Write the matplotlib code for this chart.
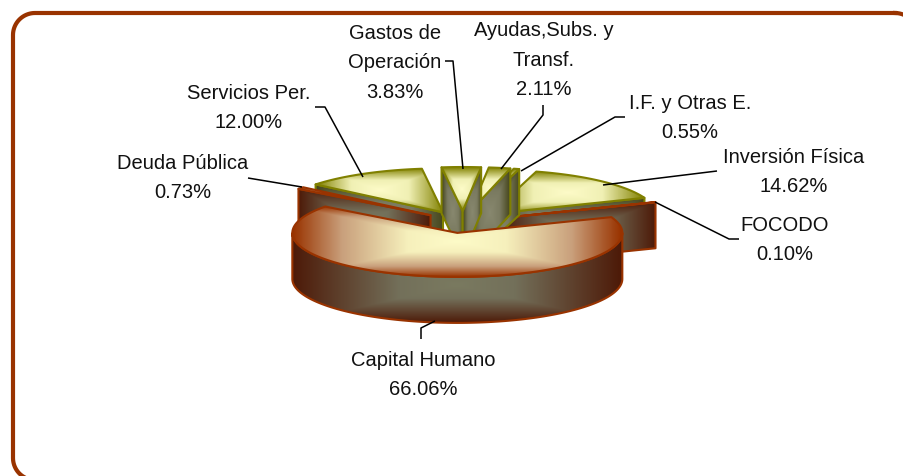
import numpy as np
import matplotlib
matplotlib.use("Agg")
import matplotlib.pyplot as plt
from matplotlib.colors import LinearSegmentedColormap
from matplotlib.patches import Polygon

# clockwise from the left edge of Capital Humano
names = ["Deuda Pública", "Servicios Per.", "Gastos de\nOperación", "Ayudas,Subs. y\nTransf.",
         "I.F. y Otras E.", "Inversión Física", "FOCODO", "Capital Humano"]
values = [0.73, 12.00, 3.83, 2.11, 0.55, 14.62, 0.10, 66.06]

plt.rcParams["font.family"] = ["Liberation Sans", "DejaVu Sans"]

label_xy = [(183, 178), (249, 108), (395, 63), (544, 60), (690, 118), (794, 172), (785, 240), (423, 375)]
leaders = [
    [(248, 178), (302, 187)],
    [(315, 107), (325, 107), (363, 177)],
    [(445, 61), (453, 61), (463, 169)],
    [(543, 105), (543, 115), (501, 169)],
    [(625, 117), (615, 117), (521, 171)],
    [(717, 171), (603, 185)],
    [(739, 239), (729, 239), (655, 202)],
    [(421, 339), (421, 328), (435, 321)],
]
draw_order = [1, 0, 5, 6, 4, 3, 2, 7]
brown_slices = [0, 6, 7]

CX, CY = 463, 222
RX, RY = 165, 44
DEPTH = 46
EXPLODE = 0.25
START = 21 - 360 * values[-1] / 100 + 360  # left edge of the big slice, going clockwise

BROWN = "#993300"
OLIVE = "#808000"
top_brown = LinearSegmentedColormap.from_list(
    "tb", [(0, "#fdfbc8"), (0.3, "#f6f0bc"), (0.7, "#c9a07c"), (1, BROWN)])
top_olive = LinearSegmentedColormap.from_list(
    "to", [(0, "#fdfbc8"), (0.45, "#f0f0b4"), (1, OLIVE)])
wall_brown = LinearSegmentedColormap.from_list(
    "wb", [(0, "#7a7a60"), (0.35, "#73705a"), (1, "#4d1a08")])
wall_olive = LinearSegmentedColormap.from_list(
    "wo", [(0, "#88886f"), (0.5, "#7a7a60"), (1, "#46461c")])

fig = plt.figure(figsize=(9.04, 4.76), dpi=100)
ax = fig.add_axes([0, 0, 1, 1])
z = [2]


def grad_fill(pts, cmap, edge, cyf=0.5):
    """polygon filled with a rectangular gradient, light in the middle"""
    pts = np.array(pts)
    x0, y0 = pts.min(axis=0)
    x1, y1 = pts.max(axis=0)
    cy = y0 + cyf * (y1 - y0)
    xx, yy = np.meshgrid(np.linspace(x0, x1, 160), np.linspace(y0, y1, 160))
    u = np.abs(xx - (x0 + x1) / 2) / max((x1 - x0) / 2, 1)
    v = np.where(yy > cy, (yy - cy) / max(y1 - cy, 1), (cy - yy) / max(cy - y0, 1))
    im = ax.imshow(np.maximum(u, v), cmap=cmap, vmin=0, vmax=1, extent=(x0, x1, y1, y0),
                   aspect="auto", zorder=z[0], interpolation="bilinear")
    clip = Polygon(pts, closed=True, transform=ax.transData)
    im.set_clip_path(clip)
    ax.add_patch(Polygon(pts, closed=True, fill=False, edgecolor=edge, lw=1.5,
                         joinstyle="round", zorder=z[0] + 1))
    z[0] += 2


def draw_slice(a0, a1, top_cmap, wall_cmap, edge):
    mid = np.radians((a0 + a1) / 2)
    ox = CX + EXPLODE * RX * np.cos(mid)
    oy = CY - EXPLODE * RY * np.sin(mid)
    n = max(int(abs(a0 - a1)), 2) + 1
    ang = np.radians(np.linspace(a0, a1, n))
    arc = np.column_stack([ox + RX * np.cos(ang), oy - RY * np.sin(ang)])
    apex = (ox, oy)

    # radial walls that face the viewer
    for a, visible in ((a0, np.cos(np.radians(a0)) < 0), (a1, np.cos(np.radians(a1)) > 0)):
        if visible:
            p = (ox + RX * np.cos(np.radians(a)), oy - RY * np.sin(np.radians(a)))
            grad_fill([apex, p, (p[0], p[1] + DEPTH), (ox, oy + DEPTH)], wall_cmap, edge)

    # outer wall, front half only
    front = ang[np.sin(ang) <= 0]
    if len(front) > 1:
        up = np.column_stack([ox + RX * np.cos(front), oy - RY * np.sin(front)])
        grad_fill(np.vstack([up, (up + [0, DEPTH])[::-1]]), wall_cmap, edge, cyf=0.58)

    grad_fill(np.vstack([apex, arc]), top_cmap, edge)


bounds = START - np.cumsum([0] + [360 * v / 100 for v in values])
for i in draw_order:
    if i in brown_slices:
        draw_slice(bounds[i], bounds[i + 1], top_brown, wall_brown, BROWN)
    else:
        draw_slice(bounds[i], bounds[i + 1], top_olive, wall_olive, OLIVE)

for line in leaders:
    xs, ys = zip(*line)
    ax.plot(xs, ys, color="black", lw=1.1, zorder=z[0], solid_capstyle="butt")

for name, v, (x, y) in zip(names, values, label_xy):
    ax.text(x, y, "%s\n%.2f%%" % (name, v), ha="center", va="center", fontsize=14.5,
            linespacing=1.68, color="#111111", zorder=z[0] + 1)

# rounded frame, runs off the right and bottom of the picture
r = 22
corner = np.radians(np.linspace(0, 90, 20))
fx = np.concatenate([917 - r + r * np.sin(corner), 917 - r + r * np.cos(corner),
                     13 + r - r * np.sin(corner), 13 + r - r * np.cos(corner)])
fy = np.concatenate([13 + r - r * np.cos(corner), 480 - r + r * np.sin(corner),
                     480 - r + r * np.cos(corner), 13 + r - r * np.sin(corner)])
ax.plot(np.append(fx, fx[0]), np.append(fy, fy[0]), color=BROWN, lw=3, zorder=1)

ax.set_xlim(0, 904)
ax.set_ylim(476, 0)
ax.axis("off")
fig.savefig("out.png", dpi=100)
